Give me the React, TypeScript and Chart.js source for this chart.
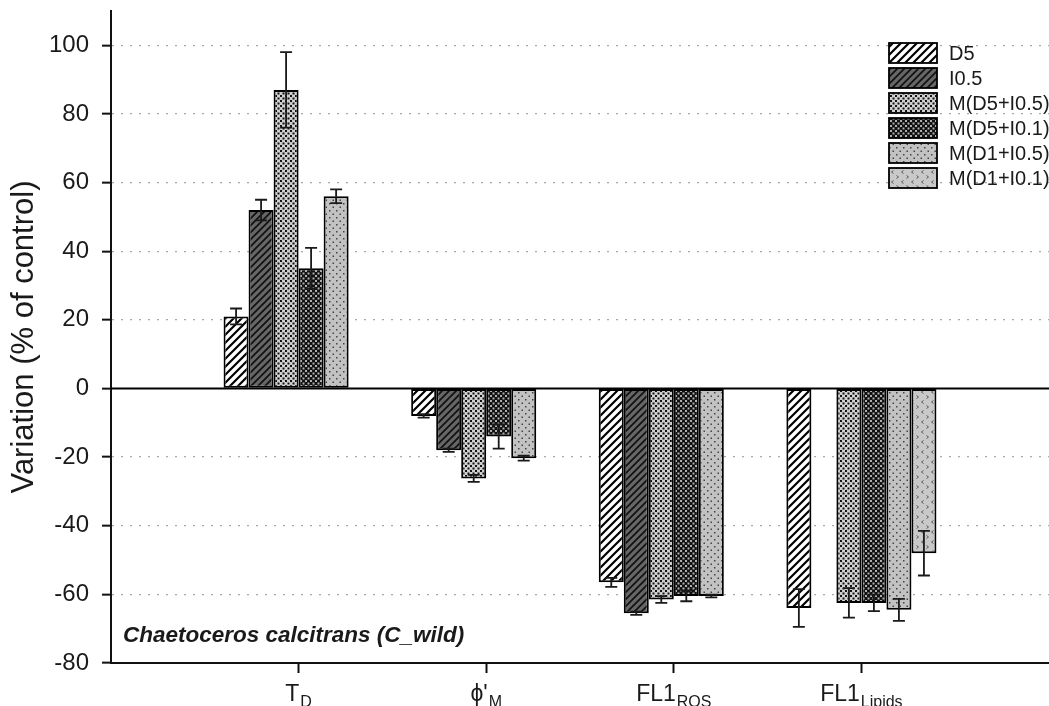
import React, { useEffect, useRef } from 'react';
import { Chart, registerables } from 'chart.js';

Chart.register(...registerables);

// ---------- data ----------
const categoryMain = ['T', "\u03D5'", 'FL1', 'FL1'];
const categorySub = ['D', 'M', 'ROS', 'Lipids'];

const seriesNames = ['D5', 'I0.5', 'M(D5+I0.5)', 'M(D5+I0.1)', 'M(D1+I0.5)', 'M(D1+I0.1)'];

const valuesD5 = [21, -8, -56.5, -64];
const valuesI05 = [52, -18, -65.5, null];
const valuesMD5I05 = [87, -26.2, -61.5, -62.5];
const valuesMD5I01 = [35, -14, -60.5, -62.5];
const valuesMD1I05 = [56, -20.3, -60.5, -64.5];
const valuesMD1I01 = [null, null, null, -48];

const errD5 = [2.3, 0.5, 1.3, 5.5];
const errI05 = [3, 0.5, 0.5, 0];
const errMD5I05 = [11, 1, 1, 4.3];
const errMD5I01 = [6, 3.5, 1.5, 2.4];
const errMD1I05 = [2, 0.7, 0.4, 3.2];
const errMD1I01 = [0, 0, 0, 6.5];

const yTickStep = 20;
const yMin = -80;
const yMax = 110;

const yTitle = 'Variation (% of control)';
const speciesLabel = 'Chaetoceros calcitrans (C_wild)';

const seriesValues = [valuesD5, valuesI05, valuesMD5I05, valuesMD5I01, valuesMD1I05, valuesMD1I01];
const seriesErrors = [errD5, errI05, errMD5I05, errMD5I01, errMD1I05, errMD1I01];

const FONT = '"Liberation Sans", Arial, Helvetica, sans-serif';
const INK = '#1a1a1a';

// ---------- patterns ----------
function makePattern(w: number, h: number, draw: (c: CanvasRenderingContext2D) => void) {
  const cv = document.createElement('canvas');
  cv.width = w;
  cv.height = h;
  const c = cv.getContext('2d') as CanvasRenderingContext2D;
  draw(c);
  return c.createPattern(cv, 'repeat') as CanvasPattern;
}

function hatch(bg: string, fg: string, size: number, lw: number) {
  return makePattern(size, size, (c) => {
    c.fillStyle = bg;
    c.fillRect(0, 0, size, size);
    c.strokeStyle = fg;
    c.lineWidth = lw;
    c.beginPath();
    c.moveTo(-1, size + 1);
    c.lineTo(size + 1, -1);
    c.moveTo(-2, 2);
    c.lineTo(2, -2);
    c.moveTo(size - 2, size + 2);
    c.lineTo(size + 2, size - 2);
    c.stroke();
  });
}

function dots(bg: string, fg: string, size: number, d: number) {
  return makePattern(size, size, (c) => {
    c.fillStyle = bg;
    c.fillRect(0, 0, size, size);
    c.fillStyle = fg;
    const h = size / 2;
    c.fillRect(0, 0, d, d);
    c.fillRect(h, h, d, d);
  });
}

function chevrons() {
  return makePattern(10, 10, (c) => {
    c.fillStyle = '#c9c9c9';
    c.fillRect(0, 0, 10, 10);
    c.strokeStyle = '#5a5a5a';
    c.lineWidth = 1;
    c.beginPath();
    c.moveTo(3.5, 0.5);
    c.lineTo(1.5, 2);
    c.lineTo(3.5, 3.5);
    c.moveTo(6.5, 5.5);
    c.lineTo(8.5, 7);
    c.lineTo(6.5, 8.5);
    c.stroke();
  });
}

function buildPatterns() {
  return [
    hatch('#ffffff', '#000000', 8, 2.2),
    hatch('#666666', '#111111', 7, 1.7),
    dots('#cfcfcf', '#111111', 5, 2),
    dots('#111111', '#b0b0b0', 5, 2),
    dots('#c2c2c2', '#444444', 7, 1.5),
    chevrons(),
  ];
}

export default function App() {
  const canvasRef = useRef<HTMLCanvasElement | null>(null);

  useEffect(() => {
    const canvas = canvasRef.current;
    if (!canvas) return;
    const patterns = buildPatterns();
    const labels = ['', ...categoryMain.map((m, i) => m + categorySub[i]), ''];

    const overlay = {
      id: 'overlay',
      afterDatasetsDraw(chart: any) {
        const ctx = chart.ctx as CanvasRenderingContext2D;
        const ys = chart.scales.y;
        const area = chart.chartArea;
        ctx.save();
        // zero line
        const y0 = ys.getPixelForValue(0);
        ctx.strokeStyle = '#000';
        ctx.lineWidth = 2;
        ctx.beginPath();
        ctx.moveTo(area.left, y0);
        ctx.lineTo(area.right, y0);
        ctx.stroke();
        // error bars
        ctx.strokeStyle = INK;
        ctx.lineWidth = 1.8;
        chart.data.datasets.forEach((ds: any, i: number) => {
          const meta = chart.getDatasetMeta(i);
          meta.data.forEach((el: any, j: number) => {
            const v = ds.data[j];
            if (v === null || v === undefined) return;
            const e = seriesErrors[i][j - 1];
            if (!e) return;
            const bx = el.x;
            const yt = ys.getPixelForValue(v + e);
            const yb = ys.getPixelForValue(v - e);
            ctx.beginPath();
            ctx.moveTo(bx, yt);
            ctx.lineTo(bx, yb);
            ctx.moveTo(bx - 6, yt);
            ctx.lineTo(bx + 6, yt);
            ctx.moveTo(bx - 6, yb);
            ctx.lineTo(bx + 6, yb);
            ctx.stroke();
          });
        });
        ctx.restore();
      },
      afterDraw(chart: any) {
        const ctx = chart.ctx as CanvasRenderingContext2D;
        const xs = chart.scales.x;
        ctx.save();
        ctx.fillStyle = INK;
        // x category labels with subscripts
        categoryMain.forEach((m, i) => {
          const sub = categorySub[i];
          ctx.font = `23px ${FONT}`;
          const wm = ctx.measureText(m).width;
          ctx.font = `16px ${FONT}`;
          const ws = ctx.measureText(sub).width;
          const cx = xs.getPixelForValue(i + 1);
          const x0 = cx - (wm + ws + 1) / 2;
          ctx.textAlign = 'left';
          ctx.textBaseline = 'alphabetic';
          ctx.font = `23px ${FONT}`;
          ctx.fillText(m, x0, 701);
          ctx.font = `16px ${FONT}`;
          ctx.fillText(sub, x0 + wm + 1, 707);
        });
        // species label
        ctx.font = `italic bold 22.5px ${FONT}`;
        ctx.textAlign = 'left';
        ctx.fillText(speciesLabel, 123, 642);
        // legend
        seriesNames.forEach((name, i) => {
          const by = 43 + 25 * i;
          ctx.fillStyle = patterns[i];
          ctx.fillRect(889, by, 48, 20);
          ctx.strokeStyle = '#000';
          ctx.lineWidth = 1.8;
          ctx.strokeRect(889, by, 48, 20);
          ctx.fillStyle = INK;
          ctx.font = `20px ${FONT}`;
          ctx.textBaseline = 'middle';
          ctx.fillText(name, 949, by + 11);
        });
        ctx.restore();
      },
    };

    const chart = new Chart(canvas, {
      type: 'bar',
      data: {
        labels,
        datasets: seriesNames.map((name, i) => ({
          label: name,
          data: [null, ...seriesValues[i], null],
          backgroundColor: patterns[i],
          borderColor: '#000',
          borderWidth: 2,
          borderSkipped: false,
          categoryPercentage: 0.8,
          barPercentage: 1.0,
        })),
      },
      options: {
        animation: false,
        responsive: false,
        layout: { padding: { top: 11, left: 0, right: 0, bottom: 0 } },
        plugins: { legend: { display: false }, tooltip: { enabled: false } },
        scales: {
          x: {
            type: 'category',
            offset: false,
            grid: {
              offset: false,
              drawOnChartArea: false,
              drawTicks: true,
              tickLength: 10,
              tickWidth: 2,
              tickColor: (ctx: any) =>
                ctx.index === 0 || ctx.index === labels.length - 1 ? 'rgba(0,0,0,0)' : '#111',
            },
            border: { color: '#111', width: 2 },
            ticks: { display: false, autoSkip: false },
            afterFit: (s: any) => {
              s.height = 43;
              s.paddingLeft = 0;
              s.paddingRight = 0;
            },
          },
          y: {
            min: yMin,
            max: yMax,
            ticks: {
              stepSize: yTickStep,
              includeBounds: false,
              color: INK,
              font: { family: FONT, size: 24 },
              padding: 13,
            },
            grid: {
              color: (ctx: any) => {
                const v = ctx.tick ? ctx.tick.value : null;
                return v === 0 || v === yMin || v === yMax ? 'rgba(0,0,0,0)' : '#a8a8a8';
              },
              lineWidth: 1.3,
              tickColor: '#111',
              tickLength: 9,
              tickWidth: 2,
            },
            border: { color: '#111', width: 2, dash: [2, 7] },
            title: {
              display: true,
              text: yTitle,
              color: INK,
              font: { family: FONT, size: 31 },
              padding: { top: 6, bottom: 0 },
            },
            afterFit: (s: any) => {
              s.width = 111;
              s.paddingTop = 0;
              s.paddingBottom = 0;
            },
          },
        },
      },
      plugins: [overlay],
    } as any);

    return () => chart.destroy();
  }, []);

  return (
    <div style={{ position: 'absolute', left: 0, top: 0, width: 1049, height: 706, background: '#fff' }}>
      <canvas ref={canvasRef} width={1049} height={706} style={{ display: 'block' }} />
    </div>
  );
}
